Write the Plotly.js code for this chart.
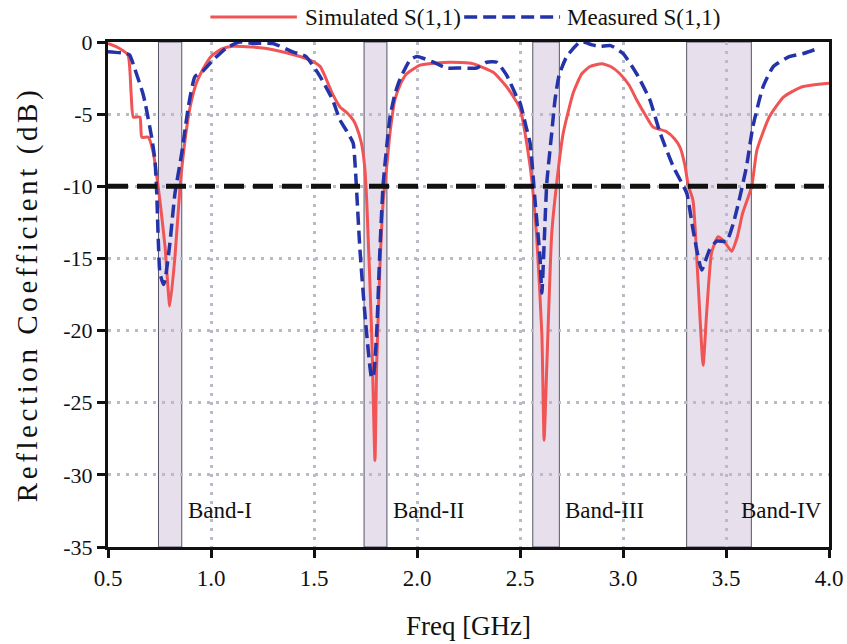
<!DOCTYPE html>
<html>
<head>
<meta charset="utf-8">
<script src="https://cdn.plot.ly/plotly-3.0.1.min.js"></script>
<style>
html,body{margin:0;padding:0;background:#fff;}
#chart{width:847px;height:644px;}
#chart .ytitle{letter-spacing:3.6px;}
</style>
</head>
<body>
<div id="chart"></div>
<script>
// Simulated S(1,1)
var simFreq = [0.50, 0.55, 0.597, 0.612, 0.623, 0.655, 0.664, 0.696, 0.72, 0.752, 0.777, 0.80, 0.825, 0.85, 0.874, 0.90, 0.93, 0.96, 1.0, 1.05, 1.107, 1.24, 1.37, 1.48, 1.53, 1.59, 1.626, 1.66, 1.69, 1.707, 1.73, 1.745, 1.756, 1.78, 1.796, 1.804, 1.82, 1.836, 1.854, 1.869, 1.893, 1.92, 1.95, 2.015, 2.16, 2.27, 2.37, 2.435, 2.5, 2.549, 2.58, 2.606, 2.617, 2.63, 2.654, 2.678, 2.71, 2.759, 2.80, 2.84, 2.897, 2.94, 2.985, 3.03, 3.066, 3.11, 3.146, 3.21, 3.25, 3.277, 3.30, 3.316, 3.34, 3.364, 3.389, 3.406, 3.43, 3.461, 3.49, 3.527, 3.555, 3.58, 3.625, 3.65, 3.71, 3.78, 3.87, 4.0];
var simS11 = [-0.1, -0.4, -0.9, -3.5, -5.2, -5.2, -6.6, -6.6, -7.7, -11, -14.2, -18.3, -14.9, -10, -6.8, -4.4, -2.8, -1.9, -1.0, -0.5, -0.3, -0.4, -0.76, -1.25, -1.7, -3.6, -4.5, -4.9, -5.4, -5.9, -7.0, -8.5, -11, -20.2, -29, -22.5, -15.6, -11, -8.5, -6.3, -4.0, -2.9, -2.2, -1.6, -1.4, -1.5, -2.1, -3.1, -4.6, -8.6, -13.3, -20.2, -27.6, -22.5, -13.3, -9.8, -6.3, -3.5, -2.2, -1.7, -1.5, -1.7, -2.2, -3.0, -4.0, -5.1, -5.9, -6.2, -6.7, -7.3, -8.5, -9.9, -11, -16.5, -22.4, -18.8, -14.6, -13.5, -13.8, -14.5, -13.5, -11.9, -10.0, -7.5, -5.2, -3.8, -3.1, -2.85];

// Measured S(1,1)
var measFreq = [0.50, 0.59, 0.605, 0.631, 0.67, 0.68, 0.712, 0.728, 0.736, 0.744, 0.752, 0.769, 0.777, 0.80, 0.825, 0.858, 0.89, 0.922, 0.962, 1.01, 1.076, 1.14, 1.205, 1.30, 1.40, 1.46, 1.53, 1.59, 1.626, 1.66, 1.69, 1.70, 1.723, 1.748, 1.78, 1.79, 1.804, 1.82, 1.836, 1.869, 1.893, 1.917, 1.966, 2.0, 2.08, 2.144, 2.21, 2.29, 2.338, 2.387, 2.435, 2.484, 2.5, 2.53, 2.549, 2.573, 2.597, 2.606, 2.614, 2.63, 2.654, 2.67, 2.69, 2.727, 2.79, 2.81, 2.85, 2.888, 2.94, 3.0, 3.066, 3.13, 3.18, 3.243, 3.29, 3.31, 3.34, 3.382, 3.42, 3.455, 3.503, 3.535, 3.568, 3.60, 3.63, 3.68, 3.73, 3.81, 3.875, 3.956];
var measS11 = [-0.67, -0.8, -0.9, -1.9, -3.6, -4.2, -6.6, -8.2, -10.3, -13.7, -16, -16.8, -16.5, -14.0, -10.5, -7.7, -4.5, -2.4, -2.0, -1.25, -0.4, 0, -0.1, -0.1, -0.7, -1.0, -2.4, -4.0, -5.4, -6.2, -7.0, -8.6, -14.4, -19, -23.3, -23, -20.2, -14.4, -9.8, -5.2, -3.6, -2.6, -1.25, -1.0, -1.4, -1.8, -1.8, -1.8, -1.4, -1.4, -2.3, -3.8, -4.2, -5.9, -7.0, -11, -14.9, -17.4, -15.1, -9.8, -6.3, -4.0, -2.3, -1.0, 0, 0, -0.2, -0.3, -0.25, -0.8, -2.2, -4.0, -6.3, -8.6, -9.9, -10.5, -13, -15.8, -14.4, -13.8, -13.8, -12.6, -10.7, -8.6, -5.9, -3.1, -1.7, -1.0, -0.8, -0.4];

// Bands
var bandNames = ['Band-I', 'Band-II', 'Band-III', 'Band-IV'];
var bandStart = [0.745, 1.743, 2.562, 3.309];
var bandEnd = [0.858, 1.854, 2.691, 3.623];
var bandLabelX = [0.877, 1.872, 2.707, 3.563];
var bandLabelY = -32.5;
var threshold = -10;

var xTicks = [0.5, 1.0, 1.5, 2.0, 2.5, 3.0, 3.5, 4.0];
var xTickText = ['0.5', '1.0', '1.5', '2.0', '2.5', '3.0', '3.5', '4.0'];
var yTicks = [0, -5, -10, -15, -20, -25, -30, -35];
var yTickText = ['0', '-5', '-10', '-15', '-20', '-25', '-30', '-35'];

var seriesNames = ['Simulated S(1,1)', 'Measured S(1,1)'];
var seriesColors = ['#f05454', '#2433a8'];

var FONT = 'Liberation Serif, Times New Roman, serif';

var traces = [
  {x: simFreq, y: simS11, type: 'scatter', mode: 'lines', name: seriesNames[0], showlegend: false,
   line: {color: seriesColors[0], width: 3, shape: 'spline', smoothing: 0.5}},
  {x: measFreq, y: measS11, type: 'scatter', mode: 'lines', name: seriesNames[1], showlegend: false,
   line: {color: seriesColors[1], width: 3.5, dash: '13px,6px', shape: 'spline', smoothing: 0.5}}
];

var shapes = [];
var annotations = [];
for (var i = 0; i < bandNames.length; i++) {
  shapes.push({type: 'rect', xref: 'x', yref: 'y', x0: bandStart[i], x1: bandEnd[i], y0: -35, y1: 0,
    fillcolor: '#e8dfec', line: {color: '#555566', width: 1}, layer: 'below'});
  annotations.push({x: bandLabelX[i], y: bandLabelY, xref: 'x', yref: 'y', text: bandNames[i],
    showarrow: false, xanchor: 'left', yanchor: 'middle', font: {family: FONT, size: 23, color: '#111'}});
}
shapes.push({type: 'line', xref: 'paper', yref: 'y', x0: 0, x1: 1, y0: threshold, y1: threshold,
  line: {color: '#111', width: 5, dash: '20px,9px'}, layer: 'above'});

// custom legend (line samples + labels) above the plot
var legY = 1.0495;
var legLines = [[0.142, 0.262], [0.494, 0.627]];
var legText = [0.270, 0.634];
for (var j = 0; j < 2; j++) {
  shapes.push({type: 'line', xref: 'paper', yref: 'paper', x0: legLines[j][0], x1: legLines[j][1], y0: legY, y1: legY,
    line: {color: seriesColors[j], width: j === 0 ? 3 : 3.5, dash: j === 0 ? 'solid' : '13px,6px'}});
  annotations.push({x: legText[j], y: legY, xref: 'paper', yref: 'paper', text: seriesNames[j], showarrow: false,
    xanchor: 'left', yanchor: 'middle', font: {family: FONT, size: 23, color: '#111'}});
}

var layout = {
  width: 847, height: 644,
  margin: {l: 108, r: 18, t: 42, b: 97, autoexpand: false},
  paper_bgcolor: '#fff', plot_bgcolor: '#fff',
  font: {family: FONT, size: 23, color: '#111'},
  showlegend: false,
  xaxis: {
    range: [0.5, 4.0], tickvals: xTicks, ticktext: xTickText,
    showline: true, linecolor: '#111', linewidth: 3, mirror: true,
    ticks: 'outside', ticklen: 8, tickwidth: 3, tickcolor: '#111',
    showgrid: true, gridcolor: '#b8bcc8', gridwidth: 3, griddash: '3px,6px',
    zeroline: false, automargin: false,
    tickfont: {family: FONT, size: 23},
    title: {text: 'Freq [GHz]', font: {family: FONT, size: 27}, standoff: 27}
  },
  yaxis: {
    range: [-35, 0], tickvals: yTicks, ticktext: yTickText,
    showline: true, linecolor: '#111', linewidth: 3, mirror: true,
    ticks: 'outside', ticklen: 8, tickwidth: 3, tickcolor: '#111',
    showgrid: true, gridcolor: '#b8bcc8', gridwidth: 3, griddash: '3px,6px',
    zeroline: false, automargin: false,
    tickfont: {family: FONT, size: 22},
    title: {text: 'Reflection Coefficient (dB)', font: {family: FONT, size: 29}, standoff: 18}
  },
  shapes: shapes,
  annotations: annotations
};

Plotly.newPlot('chart', traces, layout, {displayModeBar: false, staticPlot: true});
</script>
</body>
</html>
